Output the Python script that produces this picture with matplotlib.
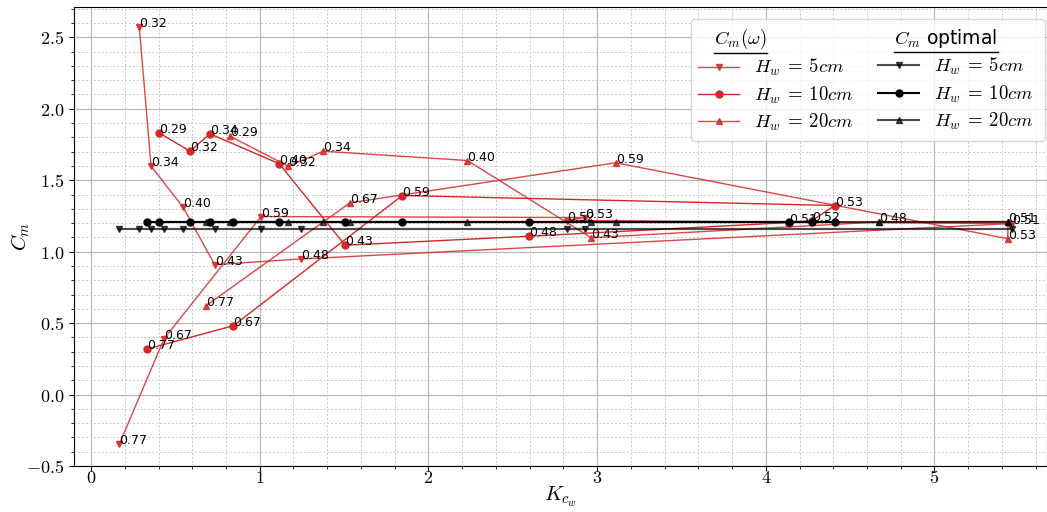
import matplotlib
matplotlib.use('Agg')
import matplotlib.pyplot as plt
from matplotlib.lines import Line2D
from matplotlib.ticker import MultipleLocator, FuncFormatter

plt.rcParams['mathtext.fontset'] = 'cm'

# H_w = 5 cm
kc_5 = [0.286, 0.356, 0.544, 0.733, 1.245, 5.459, 2.822, 2.928, 1.008, 0.433, 0.168]
cm_5 = [2.572, 1.598, 1.314, 0.909, 0.949, 1.197, 1.218, 1.239, 1.246, 0.391, -0.347]
lab_5 = ['0.32', '0.34', '0.40', '0.43', '0.48', '0.51', '0.52', '0.53', '0.59', '0.67', '0.77']

# H_w = 10 cm
kc_10 = [0.403, 0.587, 0.705, 1.116, 1.506, 2.596, 4.139, 4.274, 4.410, 1.845, 0.844, 0.330]
cm_10 = [1.832, 1.703, 1.825, 1.615, 1.045, 1.108, 1.204, 1.218, 1.323, 1.393, 0.482, 0.318]
lab_10 = ['0.29', '0.32', '0.34', '0.40', '0.43', '0.48', '0.51', '0.52', '0.53', '0.59', '0.67', '0.77']

# H_w = 20 cm
kc_20 = [0.824, 1.170, 1.377, 2.231, 2.964, 4.673, 5.436, 5.434, 3.110, 1.535, 0.682]
cm_20 = [1.808, 1.598, 1.703, 1.638, 1.098, 1.208, 1.211, 1.091, 1.622, 1.342, 0.622]
lab_20 = ['0.29', '0.32', '0.34', '0.40', '0.43', '0.48', '0.51', '0.53', '0.59', '0.67', '0.77']

# optimal (constant) C_m per wave height
cm_opt_5 = 1.16
cm_opt_10 = 1.205
cm_opt_20 = 1.205

red = 'tab:red'

fig = plt.figure(figsize=(10.47, 5.12), dpi=100)
ax = fig.add_axes([0.0707, 0.0898, 0.9293, 0.8959])

r5, = ax.plot(kc_5, cm_5, color=red, marker='v', ms=5, lw=1, alpha=0.85)
r10, = ax.plot(kc_10, cm_10, color=red, marker='o', ms=5, lw=1)
r20, = ax.plot(kc_20, cm_20, color=red, marker='^', ms=5, lw=1, alpha=0.85)

b5, = ax.plot(kc_5, [cm_opt_5] * len(kc_5), color='k', marker='v', ms=5, lw=1.5, alpha=0.7)
b10, = ax.plot(kc_10, [cm_opt_10] * len(kc_10), color='k', marker='o', ms=5, lw=1.5)
b20, = ax.plot(kc_20, [cm_opt_20] * len(kc_20), color='k', marker='^', ms=5, lw=1.5, alpha=0.7)

for xs, ys, labs in [(kc_5, cm_5, lab_5), (kc_10, cm_10, lab_10), (kc_20, cm_20, lab_20)]:
    for x, y, l in zip(xs, ys, labs):
        ax.text(x, y, l, fontsize=9)

ax.set_xlim(-0.1008, 5.667)
ax.set_ylim(-0.5, 2.71)
ax.xaxis.set_major_locator(MultipleLocator(1))
ax.xaxis.set_minor_locator(MultipleLocator(0.2))
ax.yaxis.set_major_locator(MultipleLocator(0.5))
ax.yaxis.set_minor_locator(MultipleLocator(0.1))
ax.xaxis.set_major_formatter(FuncFormatter(lambda v, p: '$%d$' % round(v)))
ax.yaxis.set_major_formatter(FuncFormatter(lambda v, p: '$%.1f$' % v))
ax.tick_params(labelsize=13)
ax.tick_params(axis='x', pad=-1.5)
ax.grid(which='major', color='#b8b8b8', lw=0.9)
ax.grid(which='minor', color='#c8c8c8', lw=0.7, ls=(0, (2, 2)))
ax.set_axisbelow(True)

ax.set_xlabel(r'$K_{c_w}$', fontsize=15, labelpad=-1.5)
ax.set_ylabel(r'$C_m$', fontsize=15, labelpad=-4)

blank = Line2D([], [], ls='', marker='')
handles = [blank, r5, r10, r20, blank, b5, b10, b20]
labels = [r'$C_m(\omega)$', r'$H_w\:=\:5cm$', r'$H_w\:=\:10cm$', r'$H_w\:=\:20cm$',
          r'$C_m$ optimal', r'$H_w\:=\:5cm$', r'$H_w\:=\:10cm$', r'$H_w\:=\:20cm$']
leg = ax.legend(handles, labels, ncol=2, loc='upper right', bbox_to_anchor=(0.998, 0.974),
                borderaxespad=0, fontsize=13.5, handlelength=2.2, handletextpad=0.8,
                columnspacing=1.3, labelspacing=0.33)

# header entries: shift left and underline
heads = [leg.get_texts()[0], leg.get_texts()[4]]
for t in heads:
    t.set_x(-40)
fig.canvas.draw()
rend = fig.canvas.get_renderer()
inv = fig.transFigure.inverted()
for t in heads:
    bb = t.get_window_extent(rend)
    (x0, y0), (x1, _) = inv.transform([(bb.x0, bb.y0 - 2), (bb.x1, bb.y0 - 2)])
    fig.add_artist(Line2D([x0, x1], [y0, y0], color='k', lw=1, transform=fig.transFigure))

fig.savefig('out.png', dpi=100)
